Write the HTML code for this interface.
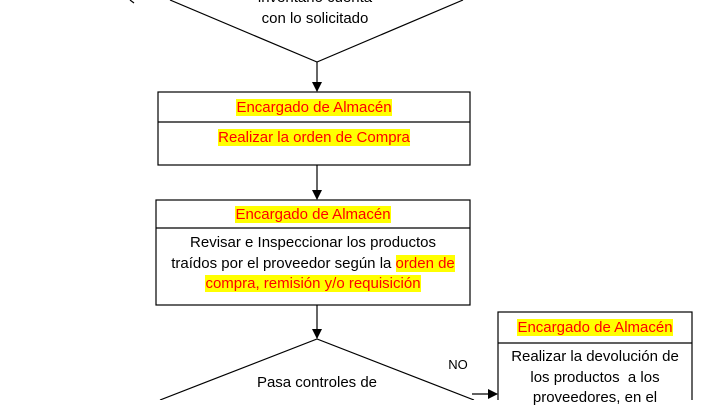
<!DOCTYPE html>
<html><head><style>
html,body{margin:0;width:715px;height:400px;overflow:hidden;background:#fff;font-family:"Liberation Sans",Arial,sans-serif;}
svg{position:absolute;left:0;top:0;display:block}
.t{position:absolute;text-align:center;font-size:15px;line-height:20.5px;color:#000;white-space:nowrap}
.h{background:#ffff00;color:#ff0000}
</style></head><body>
<svg width="715" height="400" xmlns="http://www.w3.org/2000/svg">
<defs><marker id="a" markerWidth="10" markerHeight="10" refX="9" refY="5" orient="auto" markerUnits="userSpaceOnUse"><path d="M0,0 L10,5 L0,10 z" fill="#000"/></marker></defs>
<g stroke="#000" fill="none" stroke-width="1.2">
<polyline points="170,0 317,62 463,0"/>
<line x1="130" y1="0" x2="134" y2="3"/>
<line x1="317" y1="62" x2="317" y2="91" marker-end="url(#a)"/>
<rect x="158" y="92" width="312" height="73" fill="#fff"/>
<line x1="158" y1="122" x2="470" y2="122"/>
<line x1="317" y1="165" x2="317" y2="199" marker-end="url(#a)"/>
<rect x="156" y="200" width="314" height="105" fill="#fff"/>
<line x1="156" y1="228" x2="470" y2="228"/>
<line x1="317" y1="305" x2="317" y2="338" marker-end="url(#a)"/>
<polyline points="160,400 317,339 474,400"/>
<line x1="472" y1="394" x2="497" y2="394" marker-end="url(#a)"/>
<rect x="498" y="312" width="194" height="100" fill="#fff"/>
<line x1="498" y1="343" x2="692" y2="343"/>
</g>
</svg>
<div class="t" style="left:165px;width:300px;top:-12px">inventario cuenta<br>con lo solicitado</div>
<div class="t" style="left:158px;width:312px;top:98px"><span class="h">Encargado de Almacén</span></div>
<div class="t" style="left:158px;width:312px;top:128px"><span class="h">Realizar la orden de Compra</span></div>
<div class="t" style="left:156px;width:314px;top:205px"><span class="h">Encargado de Almacén</span></div>
<div class="t" style="left:156px;width:314px;top:233px">Revisar e Inspeccionar los productos<br>traídos por el proveedor según la <span class="h">orden de</span><br><span class="h">compra, remisión y/o requisición</span></div>
<div class="t" style="left:217px;width:200px;top:373px">Pasa controles de</div>
<div class="t" style="left:448px;width:20px;top:355px;font-size:13px">NO</div>
<div class="t" style="left:498px;width:194px;top:318px"><span class="h">Encargado de Almacén</span></div>
<div class="t" style="left:498px;width:194px;top:347px">Realizar la devolución de<br>los productos&nbsp; a los<br>proveedores, en el</div>
</body></html>
